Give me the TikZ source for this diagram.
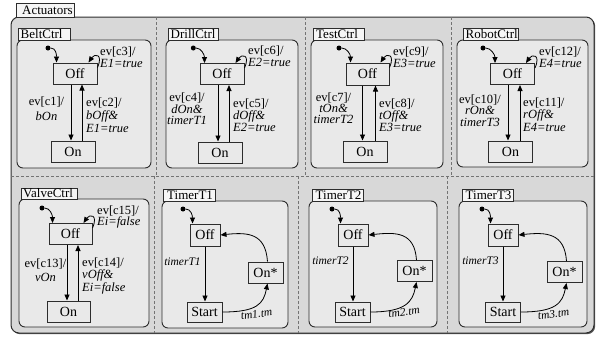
\documentclass[tikz,border=0pt]{standalone}
\usepackage{fontspec}
\setmainfont{Liberation Serif}
\usetikzlibrary{arrows.meta}
\definecolor{outerfill}{RGB}{216,216,216}
\definecolor{innerfill}{RGB}{233,233,233}
\definecolor{tabfill}{RGB}{246,246,246}
\definecolor{edgecol}{RGB}{45,45,45}
\begin{document}
\begin{tikzpicture}[x=1pt,y=-1pt,
  tabbox/.style={draw=edgecol, line width=0.8pt, fill=tabfill},
  tabtext/.style={inner sep=0pt, anchor=west, font=\fontsize{13}{13}\selectfont},
  region/.style={draw=edgecol, line width=0.9pt, fill=innerfill, rounded corners=6pt},
  statebox/.style={draw=edgecol, line width=1pt, fill=innerfill, inner sep=0pt, minimum width=44pt, minimum height=21pt, font=\fontsize{14}{14}\selectfont},
  tstate/.style={statebox, minimum width=30pt, minimum height=22pt},
  twide/.style={statebox, minimum width=35pt, minimum height=21pt},
  trans/.style={-{Triangle[length=6pt,width=5pt]}, line width=0.8pt, black},
  initdot/.style={circle, fill=black, inner sep=0pt, minimum size=5pt},
  lbl/.style={inner sep=0pt, font=\fontsize{12.5}{11.5}\selectfont},
  tlbl/.style={inner sep=0pt, font=\fontsize{11.5}{12}\selectfont\itshape},
  sep/.style={draw=black!55, dash pattern=on 3pt off 2pt, line width=0.8pt},
]
\useasboundingbox (0,0) rectangle (598,338);
% outer container
\fill[black!65, rounded corners=8pt] (12.2,18.2) rectangle (595.2,334.2);
\draw[fill=outerfill, draw=edgecol, line width=1pt, rounded corners=8pt] (11,17) rectangle (594,333);
\draw[tabbox] (16,3) rectangle (74,17);
\node[tabtext] (tabA) at (22,10.5) {Actuators};
% separators
\draw[sep] (11,176) -- (594,176);
\draw[sep] (156,17) -- (156,176);
\draw[sep] (305,17) -- (305,176);
\draw[sep] (451,17) -- (451,176);
\draw[sep] (154,176) -- (154,333);
\draw[sep] (298,176) -- (298,333);
\draw[sep] (447,176) -- (447,333);
% regions
\draw[region] (17,40) rectangle (151,168);
\draw[region] (166,40) rectangle (298,168);
\draw[region] (311,40) rectangle (443,168);
\draw[region] (457,40) rectangle (588,167);
\draw[region] (19,199) rectangle (149,327);
\draw[region] (162,201) rectangle (288,328);
\draw[region] (309,201) rectangle (437,327);
\draw[region] (459,201) rectangle (587,327);
% tabs
\draw[tabbox] (18,28) rectangle (70,40);
\node[tabtext] (tabB) at (20.5,34.5) {BeltCtrl};
\draw[tabbox] (168,28) rectangle (218,40);
\node[tabtext] (tabD) at (170.5,34.5) {DrillCtrl};
\draw[tabbox] (313,28) rectangle (364,40);
\node[tabtext] (tabT) at (316,34.5) {TestCtrl};
\draw[tabbox] (463,28) rectangle (518,40);
\node[tabtext] (tabR) at (465.5,34.5) {RobotCtrl};
\draw[tabbox] (21,188) rectangle (77,199);
\node[tabtext] (tabV) at (23,193.5) {ValveCtrl};
\draw[tabbox] (163,189) rectangle (215,201);
\node[tabtext] (tabT1) at (167,195) {TimerT1};
\draw[tabbox] (312,189) rectangle (363,201);
\node[tabtext] (tabT2) at (315.5,195) {TimerT2};
\draw[tabbox] (462,189) rectangle (513,201);
\node[tabtext] (tabT3) at (465.5,195) {TimerT3};

% ---------- BeltCtrl
\node[statebox] (bOff) at (75,73.5) {Off};
\node[statebox] (bOn) at (73,151.5) {On};
\node[initdot] (bI) at (48,48) {};
\draw[trans] (bI) .. controls +(8,0) and +(0,-8) .. ([xshift=4pt]bOff.north west);
\draw[trans] ([yshift=-5pt]bOff.north east) .. controls +(6,-14) and +(6,-9) .. ([xshift=-9pt]bOff.north east);
\draw[trans] ([xshift=-4pt]bOff.south) -- ([xshift=-4pt]bOff.south |- bOn.north);
\draw[trans] ([xshift=7pt]bOff.south |- bOn.north) -- ([xshift=7pt]bOff.south);
\node[lbl, align=left, anchor=west] (bL3) at (100,57) {ev[c3]/\\\textit{E1=true}};
\node[lbl, align=center, font=\fontsize{12.5}{15}\selectfont] (bL1) at (46.5,109) {ev[c1]/\\\textit{bOn}};
\node[lbl, align=left, anchor=west, font=\fontsize{12.5}{13}\selectfont] (bL2) at (86,115) {ev[c2]/\\\textit{bOff\&}\\\textit{E1=true}};

% ---------- DrillCtrl
\node[statebox] (dOff) at (222,74) {Off};
\node[statebox] (dOn) at (220,152.5) {On};
\node[initdot] (dI) at (193.3,48) {};
\draw[trans] (dI) .. controls +(8,0) and +(0,-8) .. ([xshift=5pt]dOff.north west);
\draw[trans] ([yshift=-5pt]dOff.north east) .. controls +(6,-14) and +(6,-9) .. ([xshift=-9pt]dOff.north east);
\draw[trans] ([xshift=-4pt]dOff.south) -- ([xshift=-4pt]dOff.south |- dOn.north);
\draw[trans] ([xshift=7pt]dOff.south |- dOn.north) -- ([xshift=7pt]dOff.south);
\node[lbl, align=left, anchor=west] (dL3) at (248,56) {ev[c6]/\\\textit{E2=true}};
\node[lbl, align=center, font=\fontsize{12.5}{11.5}\selectfont] (dL1) at (187,109) {ev[c4]/\\\textit{dOn\&}\\\textit{timerT1}};
\node[lbl, align=left, anchor=west, font=\fontsize{12.5}{12}\selectfont] (dL2) at (233,115) {ev[c5]/\\\textit{dOff\&}\\\textit{E2=true}};

% ---------- TestCtrl
\node[statebox, minimum width=43pt, minimum height=22pt] (tOff) at (367.5,74) {Off};
\node[statebox] (tOn) at (365,151.5) {On};
\node[initdot] (tI) at (339,48) {};
\draw[trans] (tI) .. controls +(8,0) and +(0,-8) .. ([xshift=5pt]tOff.north west);
\draw[trans] ([yshift=-5pt]tOff.north east) .. controls +(6,-14) and +(6,-9) .. ([xshift=-9pt]tOff.north east);
\draw[trans] ([xshift=-5pt]tOff.south) -- ([xshift=-5pt]tOff.south |- tOn.north);
\draw[trans] ([xshift=8pt]tOff.south |- tOn.north) -- ([xshift=8pt]tOff.south);
\node[lbl, align=left, anchor=west] (tL3) at (393,57) {ev[c9]/\\\textit{E3=true}};
\node[lbl, align=center, font=\fontsize{12.5}{11}\selectfont] (tL1) at (333.5,108) {ev[c7]/\\\textit{tOn\&}\\\textit{timerT2}};
\node[lbl, align=left, anchor=west, font=\fontsize{12.5}{12}\selectfont] (tL2) at (379,115) {ev[c8]/\\\textit{tOff\&}\\\textit{E3=true}};

% ---------- RobotCtrl
\node[statebox] (rOff) at (512.5,74) {Off};
\node[statebox] (rOn) at (510.5,151.5) {On};
\node[initdot] (rI) at (483,48) {};
\draw[trans] (rI) .. controls +(8,0) and +(0,-8) .. ([xshift=5pt]rOff.north west);
\draw[trans] ([yshift=-5pt]rOff.north east) .. controls +(6,-14) and +(6,-9) .. ([xshift=-9pt]rOff.north east);
\draw[trans] ([xshift=-4.5pt]rOff.south) -- ([xshift=-4.5pt]rOff.south |- rOn.north);
\draw[trans] ([xshift=7.5pt]rOff.south |- rOn.north) -- ([xshift=7.5pt]rOff.south);
\node[lbl, align=left, anchor=west] (rL3) at (539,57) {ev[c12]/\\\textit{E4=true}};
\node[lbl, align=center, font=\fontsize{12.5}{11.5}\selectfont] (rL1) at (480,110.5) {ev[c10]/\\\textit{rOn\&}\\\textit{timerT3}};
\node[lbl, align=left, anchor=west, font=\fontsize{12.5}{12.5}\selectfont] (rL2) at (523,114.5) {ev[c11]/\\\textit{rOff\&}\\\textit{E4=true}};

% ---------- ValveCtrl
\node[statebox, minimum width=43pt] (vOff) at (70.5,234) {Off};
\node[statebox, minimum width=43pt] (vOn) at (68.5,311.5) {On};
\node[initdot] (vI) at (42,208) {};
\draw[trans] (vI) .. controls +(8,0) and +(0,-8) .. ([xshift=4pt]vOff.north west);
\draw[trans] ([yshift=-5pt]vOff.north east) .. controls +(6,-14) and +(6,-9) .. ([xshift=-9pt]vOff.north east);
\draw[trans] ([xshift=-3.5pt]vOff.south) -- ([xshift=-3.5pt]vOff.south |- vOn.north);
\draw[trans] ([xshift=7.5pt]vOff.south |- vOn.north) -- ([xshift=7.5pt]vOff.south);
\node[lbl, align=left, anchor=west] (vL3) at (97,217) {ev[c15]/\\\textit{Ei=false}};
\node[lbl, align=center, font=\fontsize{12.5}{14}\selectfont] (vL1) at (45.5,270) {ev[c13]/\\\textit{vOn}};
\node[lbl, align=left, anchor=west, font=\fontsize{12.5}{12.5}\selectfont] (vL2) at (82,275.5) {ev[c14]/\\\textit{vOff\&}\\\textit{Ei=false}};

% ---------- TimerT1
\node[tstate] (aOff) at (205,235) {Off};
\node[twide, minimum height=20pt] (aStart) at (204.5,312) {Start};
\node[twide] (aOnS) at (265.5,272.5) {On*};
\node[initdot] (aI) at (183,209) {};
\draw[trans] (aI) .. controls +(8,0) and +(0,-8) .. ([xshift=3pt]aOff.north west);
\draw[trans] (aOff.south) -- (aOff.south |- aStart.north);
\draw[trans] (aStart.east) .. controls +(35,0) and +(-4,20) .. ([xshift=2pt]aOnS.south);
\draw[trans] ([xshift=2pt]aOnS.north) .. controls +(-2,-28) and +(28,-3) .. (aOff.east);
\node[tlbl] (aL1) at (182.5,262) {timerT1};
\node[tlbl, rotate=8] (aL2) at (256.5,314) {tm1.tm};

% ---------- TimerT2
\node[tstate] (cOff) at (353,235) {Off};
\node[twide, minimum height=20pt] (cStart) at (352.5,312) {Start};
\node[twide] (cOnS) at (414.5,271) {On*};
\node[initdot] (cI) at (332,209) {};
\draw[trans] (cI) .. controls +(8,0) and +(0,-8) .. ([xshift=3pt]cOff.north west);
\draw[trans] (cOff.south) -- (cOff.south |- cStart.north);
\draw[trans] (cStart.east) .. controls +(35,0) and +(-4,20) .. ([xshift=2pt]cOnS.south);
\draw[trans] ([xshift=2pt]cOnS.north) .. controls +(-2,-28) and +(28,-3) .. (cOff.east);
\node[tlbl] (cL1) at (330.5,261) {timerT2};
\node[tlbl, rotate=8] (cL2) at (404,312) {tm2.tm};

% ---------- TimerT3
\node[tstate] (eOff) at (503,235) {Off};
\node[twide, minimum height=20pt] (eStart) at (503,312) {Start};
\node[twide] (eOnS) at (564.5,272) {On*};
\node[initdot] (eI) at (482,209) {};
\draw[trans] (eI) .. controls +(8,0) and +(0,-8) .. ([xshift=3pt]eOff.north west);
\draw[trans] (eOff.south) -- (eOff.south |- eStart.north);
\draw[trans] (eStart.east) .. controls +(35,0) and +(-4,20) .. ([xshift=2pt]eOnS.south);
\draw[trans] ([xshift=2pt]eOnS.north) .. controls +(-2,-28) and +(28,-3) .. (eOff.east);
\node[tlbl] (eL1) at (480.5,261) {timerT3};
\node[tlbl, rotate=8] (eL2) at (553.5,314) {tm3.tm};
\end{tikzpicture}
\end{document}
